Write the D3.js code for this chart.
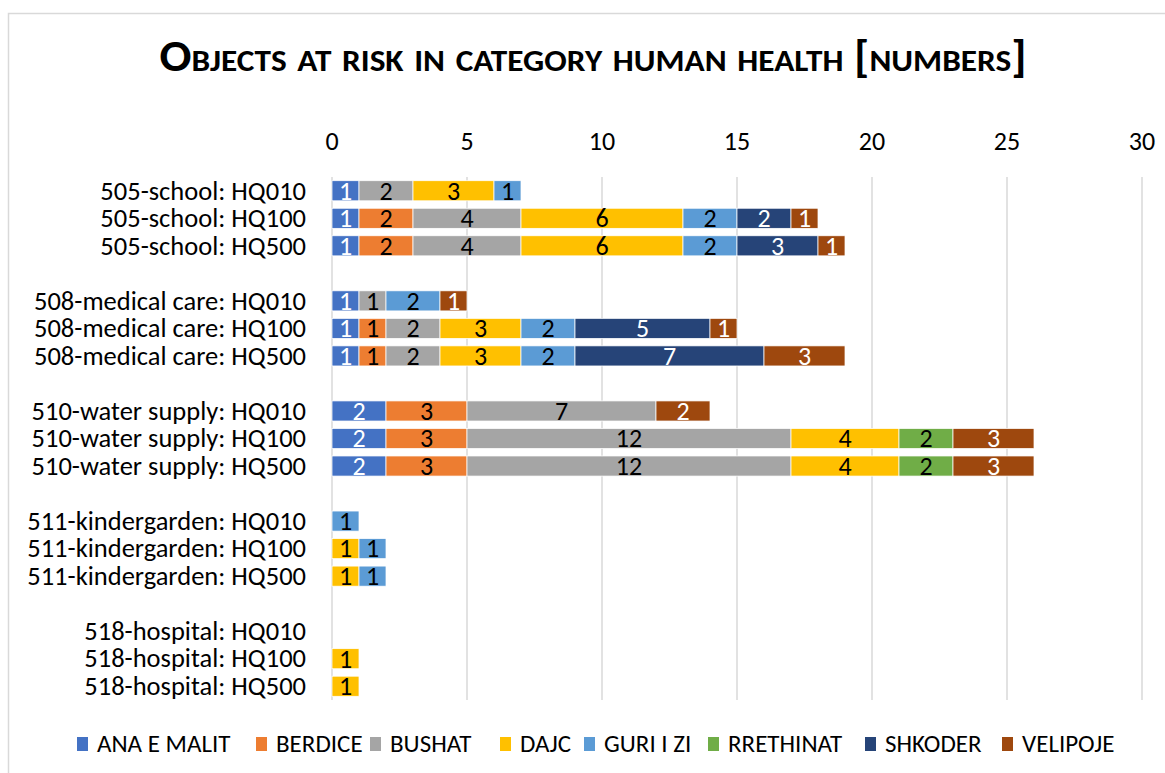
<!DOCTYPE html>
<html>
<head>
<meta charset="utf-8">
<script src="https://cdn.jsdelivr.net/npm/d3@7"></script>
<style>
  body { margin: 0; background: #fff; }
  text { font-family: Calibri, Carlito, "Open Sans", sans-serif; }
</style>
</head>
<body>
<script>
// categories (blank entries are the gaps between groups)
var categories = [
  "505-school: HQ010", "505-school: HQ100", "505-school: HQ500", "",
  "508-medical care: HQ010", "508-medical care: HQ100", "508-medical care: HQ500", " ",
  "510-water supply: HQ010", "510-water supply: HQ100", "510-water supply: HQ500", "  ",
  "511-kindergarden: HQ010", "511-kindergarden: HQ100", "511-kindergarden: HQ500", "   ",
  "518-hospital: HQ010", "518-hospital: HQ100", "518-hospital: HQ500"
];
var seriesNames = ["ANA E MALIT", "BERDICE", "BUSHAT", "DAJC", "GURI I ZI", "RRETHINAT", "SHKODER", "VELIPOJE"];
var seriesColors = ["#4472C4", "#ED7D31", "#A5A5A5", "#FFC000", "#5B9BD5", "#70AD47", "#264478", "#9E480E"];
var labelColors = ["#fff", "#000", "#000", "#000", "#000", "#000", "#fff", "#fff"];

// values per series, one per category
var anaEMalit = [1, 1, 1, 0, 1, 1, 1, 0, 2, 2, 2, 0, 0, 0, 0, 0, 0, 0, 0];
var berdice   = [0, 2, 2, 0, 0, 1, 1, 0, 3, 3, 3, 0, 0, 0, 0, 0, 0, 0, 0];
var bushat    = [2, 4, 4, 0, 1, 2, 2, 0, 7, 12, 12, 0, 0, 0, 0, 0, 0, 0, 0];
var dajc      = [3, 6, 6, 0, 0, 3, 3, 0, 0, 4, 4, 0, 0, 1, 1, 0, 0, 1, 1];
var guriIZi   = [1, 2, 2, 0, 2, 2, 2, 0, 0, 0, 0, 0, 1, 1, 1, 0, 0, 0, 0];
var rrethinat = [0, 0, 0, 0, 0, 0, 0, 0, 0, 2, 2, 0, 0, 0, 0, 0, 0, 0, 0];
var shkoder   = [0, 2, 3, 0, 0, 5, 7, 0, 0, 0, 0, 0, 0, 0, 0, 0, 0, 0, 0];
var velipoje  = [0, 1, 1, 0, 1, 1, 3, 0, 2, 3, 3, 0, 0, 0, 0, 0, 0, 0, 0];
var xTicks = [0, 5, 10, 15, 20, 25, 30];

var allSeries = [anaEMalit, berdice, bushat, dajc, guriIZi, rrethinat, shkoder, velipoje];

var width = 1165, height = 773;
var svg = d3.select("body").append("svg")
    .attr("width", width)
    .attr("height", height);

// chart frame
svg.append("rect")
    .attr("x", 8.5).attr("y", 13.5)
    .attr("width", 1170).attr("height", 800)
    .attr("fill", "#fff")
    .attr("stroke", "#d9d9d9")
    .attr("stroke-width", 1.5);

// title
svg.append("text")
    .attr("x", 593).attr("y", 71)
    .attr("text-anchor", "middle")
    .style("font-size", "44px")
    .style("font-weight", "bold")
    .style("font-variant", "small-caps")
    .attr("textLength", 867)
    .attr("lengthAdjust", "spacingAndGlyphs")
    .attr("fill", "#000")
    .text("Objects at risk in category human health [numbers]");

var x = d3.scaleLinear().domain([0, 30]).range([332, 1142]);
var y = d3.scaleBand().domain(categories).range([177, 700]).paddingInner(0.27).paddingOuter(0.135);

// gridlines
svg.append("g").selectAll("line")
    .data(xTicks)
    .enter().append("line")
    .attr("x1", d => x(d)).attr("x2", d => x(d))
    .attr("y1", 177).attr("y2", 700)
    .attr("stroke", "#d9d9d9")
    .attr("stroke-width", 1.5);

// top axis labels
svg.append("g").selectAll("text")
    .data(xTicks)
    .enter().append("text")
    .attr("x", d => x(d)).attr("y", 150)
    .attr("text-anchor", "middle")
    .style("font-size", "26px")
    .attr("fill", "#000")
    .text(d => d);

// category labels
svg.append("g").selectAll("text")
    .data(categories.filter(d => d.trim() !== ""))
    .enter().append("text")
    .attr("x", 306)
    .attr("y", d => y(d) + y.bandwidth() / 2)
    .attr("dy", "0.33em")
    .attr("text-anchor", "end")
    .style("font-size", "26.5px")
    .attr("fill", "#000")
    .text(d => d);

// stack
var table = categories.map(function(c, i) {
    var row = { cat: c };
    seriesNames.forEach(function(s, j) { row[s] = allSeries[j][i]; });
    return row;
});
var stacked = d3.stack().keys(seriesNames)(table);

var layers = svg.append("g").selectAll("g")
    .data(stacked)
    .enter().append("g")
    .attr("fill", (d, i) => seriesColors[i]);

layers.selectAll("rect")
    .data(d => d.filter(p => p[1] - p[0] > 0))
    .enter().append("rect")
    .attr("x", d => x(d[0]))
    .attr("y", d => y(d.data.cat))
    .attr("width", d => x(d[1]) - x(d[0]))
    .attr("height", y.bandwidth())
    .attr("stroke", "#fff")
    .attr("stroke-width", 0.75);

layers.selectAll("text")
    .data(function(d, i) { return d.filter(p => p[1] - p[0] > 0).map(p => ({ p: p, i: i })); })
    .enter().append("text")
    .attr("x", d => (x(d.p[0]) + x(d.p[1])) / 2)
    .attr("y", d => y(d.p.data.cat) + y.bandwidth() / 2)
    .attr("dy", "0.34em")
    .attr("text-anchor", "middle")
    .style("font-size", "26px")
    .attr("fill", d => labelColors[d.i])
    .text(d => d.p[1] - d.p[0]);

// legend
var legendX = [77, 256, 370, 500, 584, 708, 865, 1002];
var legend = svg.append("g").selectAll("g")
    .data(seriesNames)
    .enter().append("g")
    .attr("transform", (d, i) => "translate(" + legendX[i] + ",744)");
legend.append("rect")
    .attr("x", 0).attr("y", -7)
    .attr("width", 11).attr("height", 14)
    .attr("fill", (d, i) => seriesColors[i]);
legend.append("text")
    .attr("x", 20).attr("y", 0)
    .attr("dy", "0.33em")
    .style("font-size", "25px")
    .attr("fill", "#000")
    .text(d => d);
</script>
</body>
</html>
